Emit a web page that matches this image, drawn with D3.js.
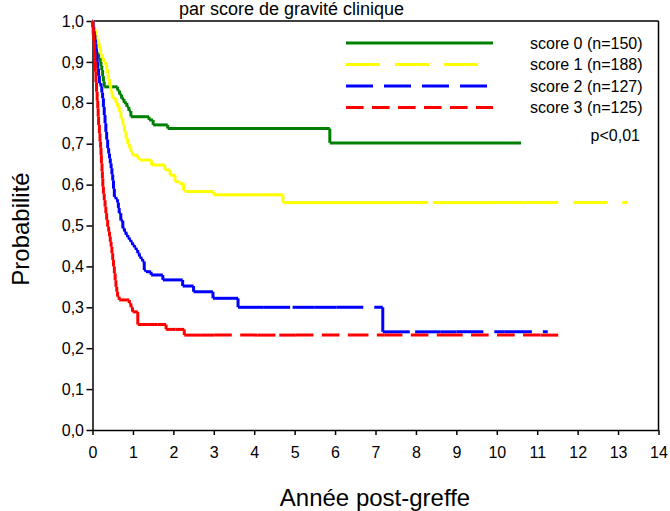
<!DOCTYPE html>
<html>
<head>
<meta charset="utf-8">
<script src="https://cdn.jsdelivr.net/npm/d3@7"></script>
<style>
  body { margin: 0; background: #fff; }
  svg text { font-family: "Liberation Sans", Arial, sans-serif; fill: #000; }
</style>
</head>
<body>
<div id="chart"></div>
<script>
// Data (years post-graft, survival probability)
const labels = ["score 0 (n=150)", "score 1 (n=188)", "score 2 (n=127)", "score 3 (n=125)"];
const xTicks = d3.range(0, 15);
const yTicks = [0, 0.1, 0.2, 0.3, 0.4, 0.5, 0.6, 0.7, 0.8, 0.9, 1.0];

const score0Times = [0.01, 0.02, 0.03, 0.05, 0.08, 0.1, 0.15, 0.19, 0.21, 0.23, 0.25, 0.27, 0.29, 0.62, 0.67, 0.72, 0.78, 0.85, 0.9, 0.95, 1.4, 1.5, 1.86, 5.87];
const score0Surv  = [0.985, 0.97, 0.955, 0.94, 0.93, 0.921, 0.91, 0.9, 0.89, 0.88, 0.865, 0.852, 0.839, 0.83, 0.82, 0.81, 0.8, 0.79, 0.78, 0.766, 0.758, 0.746, 0.737, 0.702];
const score0Censor = [10.6];

const score1Times = [0.03, 0.05, 0.07, 0.09, 0.11, 0.14, 0.17, 0.2, 0.235, 0.28, 0.33, 0.35, 0.37, 0.39, 0.42, 0.45, 0.48, 0.5, 0.58, 0.62, 0.66, 0.7, 0.75, 0.79, 0.83, 0.87, 0.91, 0.95, 0.99, 1.12, 1.17, 1.46, 1.79, 1.92, 2.04, 2.16, 2.25, 2.29, 3.0, 4.71];
const score1Surv  = [0.99, 0.98, 0.975, 0.965, 0.955, 0.945, 0.933, 0.92, 0.909, 0.9, 0.892, 0.882, 0.872, 0.858, 0.843, 0.83, 0.82, 0.811, 0.8, 0.79, 0.778, 0.762, 0.746, 0.73, 0.713, 0.7, 0.689, 0.68, 0.672, 0.664, 0.66, 0.648, 0.636, 0.623, 0.607, 0.603, 0.587, 0.583, 0.575, 0.556];
const score1Censor = [3.5, 4.1, 5.38, 6.12, 6.74, 7.46, 8.42, 9.09, 9.83, 10.68, 13.23];

const score2Times = [0.015, 0.03, 0.045, 0.06, 0.075, 0.087, 0.1, 0.115, 0.13, 0.15, 0.17, 0.21, 0.23, 0.25, 0.27, 0.29, 0.31, 0.33, 0.35, 0.375, 0.4, 0.42, 0.44, 0.46, 0.48, 0.5, 0.52, 0.54, 0.58, 0.62, 0.64, 0.66, 0.7, 0.75, 0.79, 0.83, 0.87, 0.91, 0.95, 0.99, 1.04, 1.08, 1.12, 1.16, 1.2, 1.24, 1.28, 1.32, 1.45, 1.74, 2.23, 2.5, 2.98, 3.6, 7.18];
const score2Surv  = [0.985, 0.975, 0.966, 0.955, 0.945, 0.933, 0.918, 0.9, 0.884, 0.866, 0.848, 0.839, 0.825, 0.811, 0.79, 0.77, 0.75, 0.729, 0.71, 0.689, 0.676, 0.664, 0.652, 0.64, 0.625, 0.61, 0.59, 0.57, 0.564, 0.556, 0.543, 0.53, 0.512, 0.493, 0.485, 0.477, 0.471, 0.465, 0.459, 0.452, 0.446, 0.44, 0.432, 0.424, 0.418, 0.412, 0.391, 0.387, 0.379, 0.367, 0.352, 0.338, 0.322, 0.3, 0.24];
const score2Censor = [4.22, 4.95, 5.5, 6.03, 7.98, 8.6, 9.0, 10.2, 11.26];

const score3Times = [0.01, 0.02, 0.03, 0.045, 0.06, 0.07, 0.085, 0.1, 0.115, 0.13, 0.14, 0.15, 0.17, 0.185, 0.2, 0.21, 0.22, 0.235, 0.245, 0.255, 0.27, 0.29, 0.31, 0.33, 0.35, 0.375, 0.4, 0.42, 0.44, 0.46, 0.48, 0.5, 0.52, 0.54, 0.56, 0.58, 0.6, 0.62, 0.66, 0.91, 0.95, 0.99, 1.12, 1.82, 2.27];
const score3Surv  = [0.985, 0.966, 0.95, 0.925, 0.9, 0.876, 0.85, 0.827, 0.805, 0.786, 0.766, 0.746, 0.725, 0.705, 0.69, 0.672, 0.652, 0.632, 0.615, 0.595, 0.578, 0.562, 0.546, 0.53, 0.514, 0.497, 0.485, 0.473, 0.46, 0.448, 0.432, 0.416, 0.4, 0.383, 0.366, 0.35, 0.338, 0.326, 0.318, 0.31, 0.3, 0.289, 0.258, 0.246, 0.232];
const score3Censor = [1.35, 1.6, 2.05, 2.66, 3.01, 4.09, 4.62, 5.03, 6.39, 7.23, 8.72, 11.09, 11.52];

// Styles per series (same order as labels)
const colors = ["#008000", "#ffff00", "#0000ff", "#ff0000"];
const dashes = [null, "34,15", "27,11", "17.6,8.4"];

const series = [
  { times: score0Times, surv: score0Surv, censor: score0Censor },
  { times: score1Times, surv: score1Surv, censor: score1Censor },
  { times: score2Times, surv: score2Surv, censor: score2Censor },
  { times: score3Times, surv: score3Surv, censor: score3Censor }
];

// Layout
const margins = { top: 21, right: 11.5, bottom: 81, left: 92.5 };
const W = 670, H = 511;
const width = W - margins.left - margins.right;
const height = H - margins.top - margins.bottom;

const svg = d3.select("#chart").append("svg")
  .attr("width", W)
  .attr("height", H);

const g = svg.append("g")
  .attr("transform", `translate(${margins.left},${margins.top})`);

const xScale = d3.scaleLinear().domain([0, 14]).range([0, width]);
const yScale = d3.scaleLinear().domain([0, 1]).range([height, 0]);
const fmt = d => d3.format(".1f")(d).replace(".", ",");

// Axes
const xAxis = g.append("g")
  .attr("transform", `translate(0,${height})`)
  .call(d3.axisBottom(xScale).tickValues(xTicks).tickSize(5).tickSizeOuter(0).tickPadding(11.5));
const yAxis = g.append("g")
  .call(d3.axisLeft(yScale).tickValues(yTicks).tickFormat(fmt).tickSize(6).tickSizeOuter(0).tickPadding(2.5));

[xAxis, yAxis].forEach(ax => {
  ax.selectAll("path, line").attr("stroke", "#000").attr("stroke-width", 1.5);
  ax.selectAll("text").attr("font-size", 16).attr("font-family", null);
});

// Top and right frame lines
g.append("line").attr("x1", 0).attr("x2", width).attr("y1", 0).attr("y2", 0)
  .attr("stroke", "#000").attr("stroke-width", 1.5);
g.append("line").attr("x1", width).attr("x2", width).attr("y1", 0).attr("y2", height)
  .attr("stroke", "#000").attr("stroke-width", 1.5);

// Build step segments: each horizontal run and each drop is its own piece,
// so the dash pattern restarts at every event / censored time.
const stepSegments = s => {
  const pts = s.times.map((t, i) => ({ t, s: s.surv[i] }))
    .concat(s.censor.map(t => ({ t, s: null })))
    .sort((a, b) => a.t - b.t);
  let cur = 1;
  const all = [{ t: 0, s: 1 }];
  pts.forEach(p => {
    if (p.s !== null) cur = p.s;
    all.push({ t: p.t, s: cur });
  });
  const segs = [];
  for (let i = 0; i < all.length - 1; i++) {
    const a = all[i], b = all[i + 1];
    segs.push([[a.t, a.s], [b.t, a.s]]);
    if (b.s !== a.s) segs.push([[b.t, a.s], [b.t, b.s]]);
  }
  return segs;
};

const line = d3.line().x(d => xScale(d[0])).y(d => yScale(d[1]));

series.forEach((s, i) => {
  g.append("g")
    .selectAll("path")
    .data(stepSegments(s))
    .enter()
    .append("path")
    .attr("d", line)
    .attr("fill", "none")
    .attr("stroke", colors[i])
    .attr("stroke-width", 3)
    .attr("stroke-dasharray", dashes[i]);
});

// Legend
const legend = svg.append("g");
labels.forEach((lab, i) => {
  const y = 43 + i * 21.5;
  legend.append("line")
    .attr("x1", 346).attr("x2", 493).attr("y1", y).attr("y2", y)
    .attr("stroke", colors[i])
    .attr("stroke-width", 3)
    .attr("stroke-dasharray", dashes[i]);
  legend.append("text")
    .attr("x", 530).attr("y", y).attr("dy", "0.35em")
    .attr("font-size", 16)
    .text(lab);
});
legend.append("text")
  .attr("x", 640).attr("y", 135).attr("dy", "0.35em")
  .attr("text-anchor", "end")
  .attr("font-size", 16)
  .text("p<0,01");

// Titles (chart title pushed down just enough to be fully visible)
svg.append("text")
  .attr("x", 291.5).attr("y", 15)
  .attr("text-anchor", "middle")
  .attr("font-size", 18)
  .text("par score de gravité clinique");

svg.append("text")
  .attr("x", 375).attr("y", 506)
  .attr("text-anchor", "middle")
  .attr("font-size", 24)
  .text("Année post-greffe");

svg.append("text")
  .attr("transform", "translate(29,229) rotate(-90)")
  .attr("text-anchor", "middle")
  .attr("font-size", 24)
  .text("Probabilité");
</script>
</body>
</html>
